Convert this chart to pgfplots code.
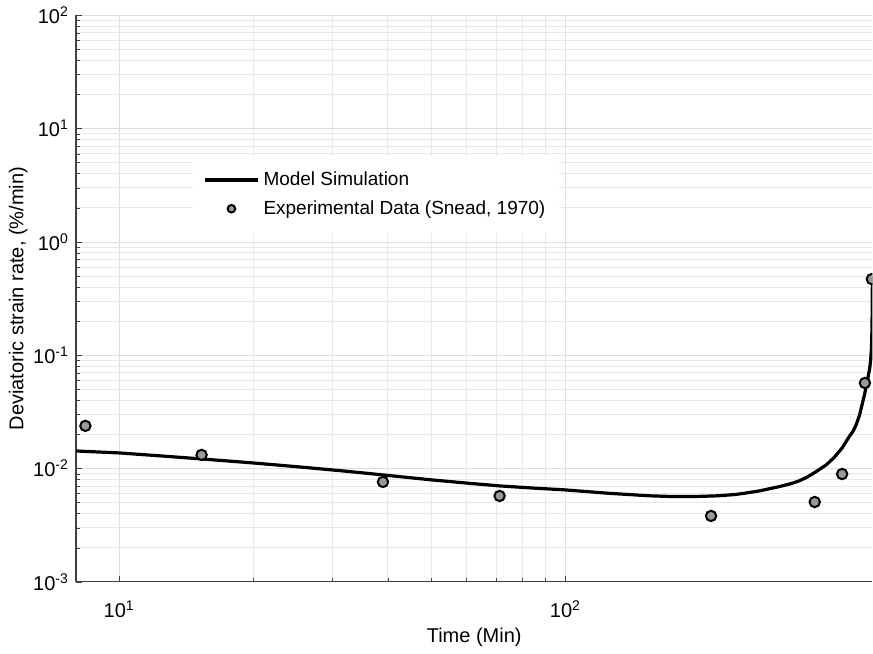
\documentclass[border=0pt]{standalone}
\usepackage{fontspec}
\setmainfont{Liberation Sans}
\usepackage{pgfplots}
\pgfplotsset{compat=1.18}
\pgfplotsset{
  legline/.style={legend image code/.code={\draw[##1] (0cm,0cm) -- (0.93cm,0cm);}},
  legmark/.style={legend image code/.code={\draw[##1] plot coordinates {(0.465cm,0cm)};}},
}

\begin{document}
\begin{tikzpicture}
\begin{axis}[
  width=398.5pt, height=283.5pt, scale only axis,
  xmode=log, ymode=log,
  xmin=8, xmax=487.5, ymin=1e-3, ymax=1e2,
  axis x line*=bottom, axis y line*=left,
  axis line style={black!75, line width=0.6pt},
  grid=both,
  major grid style={black!13, line width=0.4pt},
  minor grid style={black!9, line width=0.4pt},
  tick align=inside, major tick length=3pt, minor tick length=2pt,
  tick style={black!75},
  xtick={10,100}, xticklabels={10\textsuperscript{1},10\textsuperscript{2}},
  ytick={1e-3,1e-2,1e-1,1,10,100},
  yticklabels={10\textsuperscript{-3},10\textsuperscript{-2},10\textsuperscript{-1},10\textsuperscript{0},10\textsuperscript{1},10\textsuperscript{2}},
  ticklabel style={font=\fontsize{10}{12}\selectfont},
  xticklabel style={yshift=-6pt},
  xlabel={Time (Min)}, ylabel={Deviatoric strain rate, (\%/min)},
  label style={font=\fontsize{10}{12}\selectfont},
  xlabel style={yshift=2pt},
  ylabel style={yshift=-4pt},
  legend style={at={(0.147,0.753)}, anchor=north west, draw=none, fill=white,
    font=\fontsize{9.5}{11}\selectfont, cells={anchor=west},
    inner xsep=5pt, inner ysep=6pt, row sep=2pt},
  clip marker paths=true,
]
\addplot[black, line width=1.6pt, line join=round, legline] coordinates {
  (8.01,0.01429) (10,0.01374) (12.5,0.01290) (15.3,0.01216) (20,0.01120)
  (25.4,0.01033) (32,0.00950) (39.0,0.00879) (50,0.00795) (60,0.00745)
  (71.2,0.00703) (85,0.00672) (100,0.00648) (125,0.00605) (154,0.00575)
  (175,0.00566) (199.5,0.00568) (220,0.00575) (240,0.0059) (255,0.0061)
  (272,0.00635) (300,0.0069) (318,0.0073) (334,0.00778) (348,0.0084)
  (360,0.0091) (372,0.0099) (384,0.01076) (400,0.0125) (417,0.0152)
  (432,0.0190) (441,0.0213) (448,0.0242) (456,0.0295) (462,0.0364)
  (468,0.0450) (474,0.0569) (478,0.068) (481,0.078) (483,0.090)
  (485,0.115) (486,0.150) (487,0.25) (487.5,0.5)
};
\addlegendentry{Model Simulation}
\addplot[only marks, mark=*, mark size=2.6pt, mark options={fill=black!40, draw=black, line width=1pt},
  legmark, legend image post style={mark size=1.9pt}] coordinates {
  (8.4,0.0238) (15.3,0.0132) (39.0,0.00762) (71.2,0.00573) (212,0.00382)
  (362,0.00507) (417,0.00895) (469,0.0569) (486,0.47)
};
\addlegendentry{Experimental Data (Snead, 1970)}
\end{axis}
\path (current axis.south west) ++(-38pt,0pt);
\end{tikzpicture}
\end{document}
